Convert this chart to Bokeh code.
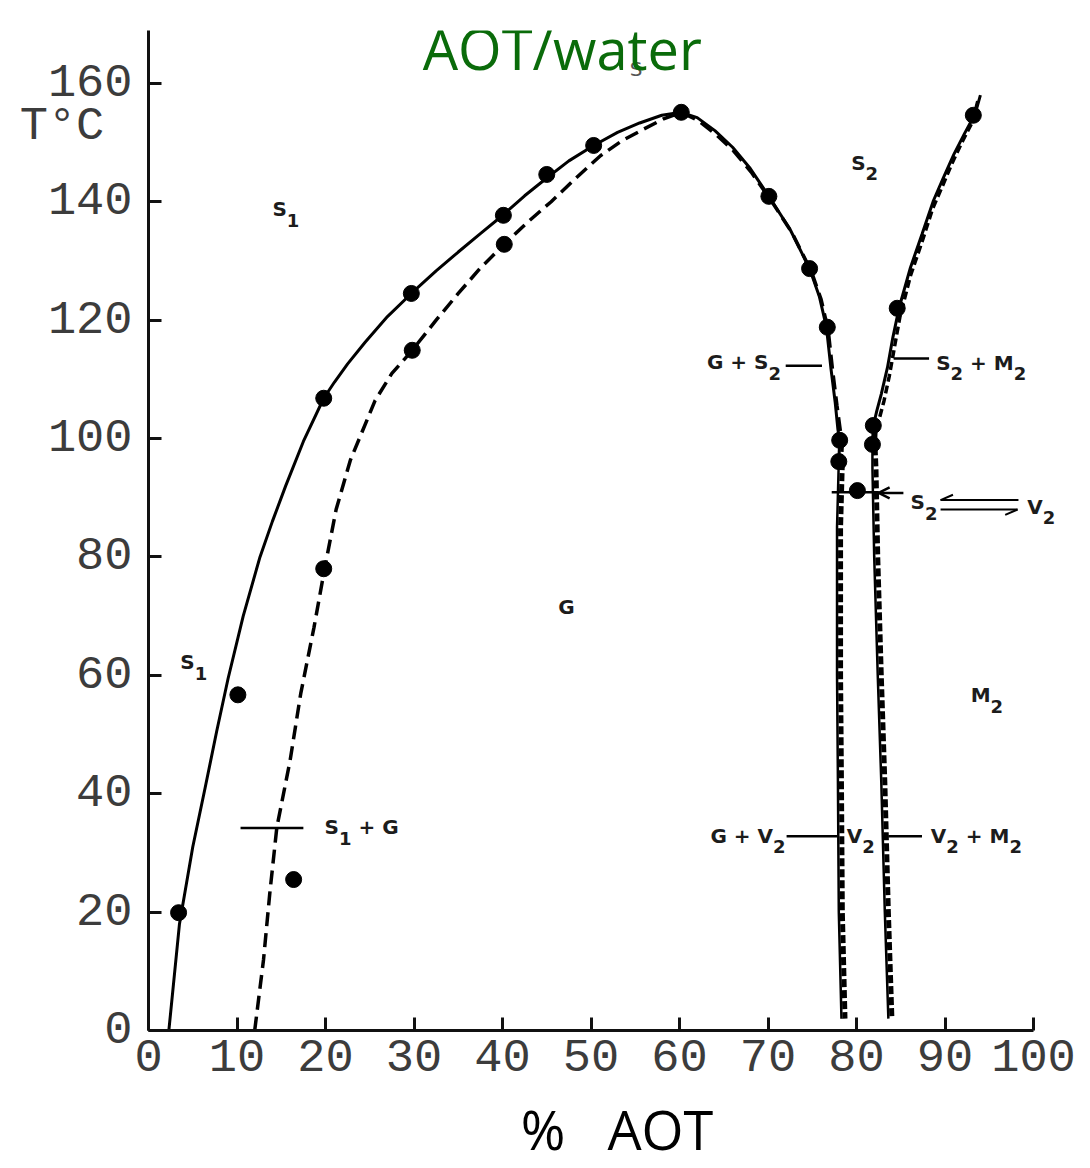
from bokeh.plotting import figure
from bokeh.models import FixedTicker, Range1d, Label, Arrow, OpenHead
from bokeh.embed import file_html
from bokeh.resources import INLINE

# ---------------- data ----------------
x_ticks = [0, 10, 20, 30, 40, 50, 60, 70, 80, 90, 100]
y_ticks = [0, 20, 40, 60, 80, 100, 120, 140, 160]
y_title_at = 152.7          # where the "T°C" axis caption sits on the T axis

# solid boundary: S1 / (S1+G) and G / (G+S2)
solid1_x = [2.3, 3.5, 5.0, 6.4, 7.7, 9.0, 10.7, 12.6, 14.0, 15.5, 17.5, 19.8, 21.0, 22.5,
            24.5, 27.0, 29.7, 32.5, 35.0, 37.5, 40.1, 42.5, 45.0, 47.5, 50.3, 53.0, 55.5,
            58.0, 60.2, 62.0, 64.0, 66.0, 68.0, 70.1, 72.5, 74.7, 75.8, 76.6, 77.1, 77.6,
            77.9, 78.1, 78.0]
solid1_y = [0, 18, 31, 41, 50.5, 59.5, 70, 80, 86, 92, 99.5, 106.8, 109.5, 112.6,
            116.3, 120.6, 124.5, 128.3, 131.5, 134.6, 137.8, 141.0, 144.0, 146.9, 149.5, 151.7, 153.3,
            154.6, 155.1, 154.2, 152.0, 149.2, 145.6, 140.9, 135.3, 128.7, 124.0, 118.8, 112.0, 106.0,
            101.5, 99.7, 96.1]
# dashed boundary: (S1+G) / G
dash1_x = [12.0, 13.0, 13.7, 14.5, 16.0, 17.2, 18.7, 19.9, 21.2, 22.8, 25.6, 27.5, 29.8,
           32.5, 35.0, 37.5, 40.2, 42.8, 45.5, 48.3, 51.1, 53.5, 56.0, 58.2, 60.2, 62.1,
           64.1, 66.1, 68.1, 70.3, 72.7, 74.9, 76.0, 76.8, 77.3, 77.8, 78.2, 78.4, 78.3]
dash1_y = [0, 12, 23.1, 34.3, 45.6, 56.9, 68.1, 78.0, 88, 96.3, 106.4, 111, 114.9,
           120, 124.5, 128.8, 132.8, 136.5, 140, 144, 147.8, 150.3, 152.3, 154, 155.1, 153.7,
           151.4, 148.6, 145, 140.3, 134.8, 128.2, 123.5, 118.3, 111.5, 105.5, 101, 99.5, 96]
# left vertical boundary G / V2 (double line)
vert1_x = [78.0, 77.8, 77.8, 77.9, 78.0, 78.3]
vert1_y = [96.1, 85, 60, 42, 20, 2]
vert1d_x = [78.4, 78.2, 78.2, 78.3, 78.4, 78.7]
vert1d_y = [96, 85, 60, 42, 20, 2]
# right boundary S2 / (S2+M2)
solid2_x = [94.0, 93.4, 92.2, 91.0, 89.8, 88.7, 87.4, 86.1, 84.8, 84.1, 83.5, 82.8, 82.3, 81.9, 81.8]
solid2_y = [158, 154.8, 151.5, 148, 144, 140.2, 134.5, 128.9, 122, 117, 112, 107.5, 104.7, 102.2, 99]
dash2_x = [93.7, 93.1, 91.9, 90.8, 89.7, 88.6, 87.4, 86.1, 84.9, 84.3, 83.7, 83.1, 82.6, 82.2, 82.1]
dash2_y = [157, 153.5, 150, 146.5, 142.6, 138.8, 133.2, 127.5, 120.5, 115.5, 110.5, 106.3, 103.5, 101.5, 98.5]
# right vertical boundary V2 / M2 (double line)
vert2_x = [81.8, 81.8, 82.0, 82.4, 82.8, 83.2, 83.6]
vert2_y = [99, 95, 80, 60, 42, 20, 2]
vert2d_x = [82.1, 82.2, 82.4, 82.8, 83.2, 83.6, 84.0]
vert2d_y = [98.5, 95, 80, 60, 42, 20, 2]

# measured points
dots_x = [3.4, 10.1, 16.4, 19.8, 19.8, 29.8, 29.7, 40.2, 40.1, 45.0, 50.3, 60.2,
          70.1, 74.7, 76.7, 78.1, 78.0, 80.1, 81.9, 81.8, 84.6, 93.2]
dots_y = [19.9, 56.7, 25.5, 78.0, 106.8, 114.9, 124.5, 132.8, 137.7, 144.6, 149.5, 155.1,
          140.9, 128.7, 118.8, 99.7, 96.1, 91.2, 102.2, 99.0, 122.0, 154.6]

# leader lines (x0, x1, y)
lead_x0 = [10.4, 72.0, 84.2, 72.1, 83.6]
lead_x1 = [17.5, 76.1, 88.2, 77.8, 87.4]
lead_y = [34.2, 112.3, 113.5, 32.8, 32.8]

# ---------------- figure ----------------
PX_X = 8.85   # pixels per % AOT
PX_Y = 5.92   # pixels per degree
W, H = 1090, 1168
LB, TB, FW, FH = 148, 30, 937, 1000

p = figure(width=W, height=H, title=None,
           x_range=Range1d(0, FW / PX_X), y_range=Range1d(0, FH / PX_Y),
           output_backend="svg", toolbar_location=None,
           min_border_left=LB, min_border_right=W - LB - FW,
           min_border_top=TB, min_border_bottom=H - TB - FH)
p.outline_line_color = None
p.xgrid.visible = False
p.ygrid.visible = False
p.background_fill_color = "white"
p.border_fill_color = "white"

p.xaxis.ticker = FixedTicker(ticks=x_ticks)
p.yaxis.ticker = FixedTicker(ticks=y_ticks + [y_title_at], minor_ticks=y_ticks)
p.yaxis.major_label_overrides = {y_title_at: "T°C\u00a0"}
p.xaxis.bounds = (0, 100)
for ax in (p.xaxis[0], p.yaxis[0]):
    ax.axis_line_width = 3
    ax.axis_line_color = "#111111"
    ax.major_tick_in = 13
    ax.major_tick_out = 0
    ax.major_tick_line_width = 3
    ax.major_tick_line_color = "#111111"
    ax.major_label_text_font = "Liberation Mono"
    ax.major_label_text_font_size = "47px"
    ax.major_label_text_color = "#3c3c3c"
p.xaxis.minor_tick_line_color = None
# y ticks drawn as minor ticks so that the caption position gets no tick mark
p.yaxis.major_tick_line_color = None
p.yaxis.minor_tick_in = 13
p.yaxis.minor_tick_out = 0
p.yaxis.minor_tick_line_width = 3
p.yaxis.minor_tick_line_color = "#111111"
p.xaxis.major_label_standoff = 9
p.yaxis.major_label_standoff = 16

p.xaxis.axis_label = "%\u00a0\u00a0\u00a0AOT"
p.xaxis.axis_label_text_font = "Open Sans"
p.xaxis.axis_label_text_font_size = "54px"
p.xaxis.axis_label_text_font_style = "normal"
p.xaxis.axis_label_text_color = "black"
p.xaxis.axis_label_standoff = 18

# curves
p.line(solid1_x, solid1_y, line_width=3, line_color="black")
p.line(dash1_x, dash1_y, line_width=3.5, line_color="black", line_dash="14 7")
p.line(vert1_x, vert1_y, line_width=2.5, line_color="black")
p.line(vert1d_x, vert1d_y, line_width=5, line_color="black", line_dash="8 3")
p.line(solid2_x, solid2_y, line_width=3, line_color="black")
p.line(dash2_x, dash2_y, line_width=3.5, line_color="black", line_dash="8 4")
p.line(vert2_x, vert2_y, line_width=2.5, line_color="black")
p.line(vert2d_x, vert2d_y, line_width=5, line_color="black", line_dash="8 3")

p.scatter(dots_x, dots_y, size=16, color="black")

# leader lines
p.segment(x0=lead_x0, y0=lead_y, x1=lead_x1, y1=lead_y, line_width=2.5, line_color="black")
# tie line through the 92 degC point and arrow
p.segment(x0=[77.2], y0=[90.9], x1=[82.5], y1=[90.9], line_width=2.5, line_color="black")
p.add_layout(Arrow(end=OpenHead(size=11, line_width=2.5, line_color="black"),
                   x_start=85.3, y_start=90.8, x_end=82.5, y_end=90.8,
                   line_width=2.5, line_color="black"))
# equilibrium half arrows S2 <=> V2
p.segment(x0=[89.5, 89.5, 98.2, 89.5], y0=[89.6, 89.6, 88.0, 88.0],
          x1=[98.3, 90.9, 96.8, 98.2], y1=[89.6, 90.5, 87.1, 88.0],
          line_width=2, line_color="black")

# ---------------- texts ----------------
LABEL_FONT = "DejaVu Sans"
LABEL_COLOR = "#1c1c1c"
MAIN, SUB, DROP = 20, 18, 11
WID = {'S': .72, 'G': .821, 'M': .995, 'V': .774, ' ': .348, '+': .838, '1': .696, '2': .696}


def put_label(x_left, y_mid, parts):
    cur = x_left
    for txt, sub in parts:
        size = SUB if sub else MAIN
        lead = len(txt) - len(txt.lstrip(' '))
        cur += lead * WID[' '] * size / PX_X
        t = txt.strip(' ')
        yy = y_mid - (DROP / PX_Y if sub else 0)
        p.add_layout(Label(x=cur, y=yy, text=t, text_font=LABEL_FONT,
                           text_font_size=f"{size}px", text_font_style="bold",
                           text_align="left", text_baseline="middle",
                           text_color=LABEL_COLOR))
        cur += sum(WID[c] for c in t) * size / PX_X
        trail = len(txt) - len(txt.rstrip(' '))
        cur += trail * WID[' '] * size / PX_X


put_label(14.0, 138.7, [("S", False), ("1", True)])
put_label(79.4, 146.6, [("S", False), ("2", True)])
put_label(63.1, 112.9, [("G + S", False), ("2", True)])
put_label(89.0, 112.8, [("S", False), ("2", True), (" + M", False), ("2", True)])
put_label(86.1, 89.2, [("S", False), ("2", True)])
put_label(99.3, 88.5, [("V", False), ("2", True)])
put_label(63.5, 32.9, [("G + V", False), ("2", True)])
put_label(78.9, 32.9, [("V", False), ("2", True)])
put_label(88.4, 32.9, [("V", False), ("2", True), (" + M", False), ("2", True)])
put_label(3.6, 62.2, [("S", False), ("1", True)])
put_label(19.9, 34.3, [("S", False), ("1", True), (" + G", False)])
put_label(92.9, 56.6, [("M", False), ("2", True)])
put_label(46.3, 71.5, [("G", False)])
p.add_layout(Label(x=55.1, y=162.5, text="S", text_font=LABEL_FONT, text_font_size="20px",
                   text_align="center", text_baseline="middle", text_color="#555555"))

# title
p.add_layout(Label(x=46.75, y=165.9, text="AOT/water", text_font="Open Sans",
                   text_font_size="56px", text_align="center", text_baseline="middle",
                   text_color="#0a6b0a"))

open("out.html", "w").write(file_html(p, INLINE))
